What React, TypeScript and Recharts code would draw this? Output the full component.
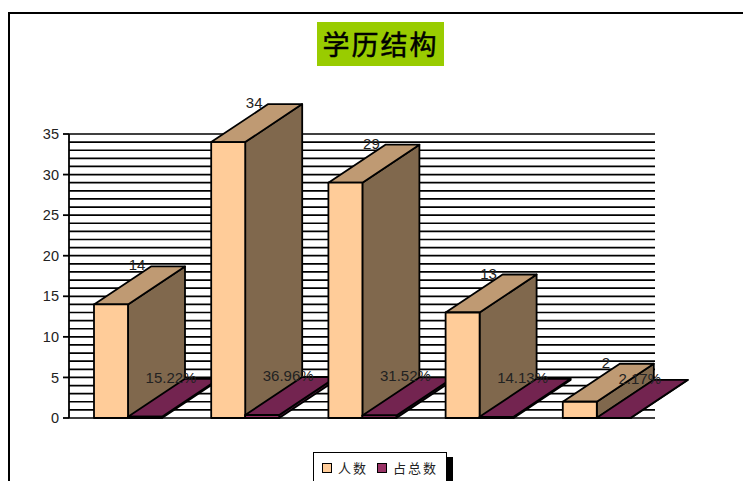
import React from 'react';
import { BarChart, Bar, XAxis, YAxis, CartesianGrid, LabelList, Legend } from 'recharts';

const categories = ['A', 'B', 'C', 'D', 'E'];
const headcount = [14, 34, 29, 13, 2];
const shareOfTotal = [0.1522, 0.3696, 0.3152, 0.1413, 0.0217];
const shareLabels = ['15.22%', '36.96%', '31.52%', '14.13%', '2.17%'];
const yTicks = [0, 5, 10, 15, 20, 25, 30, 35];
const gridValues = [
  0, 1, 2, 3, 4, 5, 6, 7, 8, 9, 10, 11, 12, 13, 14, 15, 16, 17,
  18, 19, 20, 21, 22, 23, 24, 25, 26, 27, 28, 29, 30, 31, 32, 33, 34, 35,
];

const data = categories.map((name, i) => ({
  name,
  count: headcount[i],
  share: shareOfTotal[i],
  shareLabel: shareLabels[i],
}));

const DEPTH_X = 57;
const DEPTH_Y = 38;
const LINE = '#000';
const LABEL_FONT = '"Liberation Sans", Arial, sans-serif';

// side and top faces of the count bars
const CountBar = ({ x, y, width, height }: any) => {
  const r = x + width;
  const b = y + height;
  return (
    <g stroke={LINE} strokeWidth={1.8} strokeLinejoin="round">
      <polygon
        points={`${r},${y} ${r + DEPTH_X},${y - DEPTH_Y} ${r + DEPTH_X},${b - DEPTH_Y} ${r},${b}`}
        fill="#80684D"
      />
      <polygon
        points={`${x},${y} ${x + DEPTH_X},${y - DEPTH_Y} ${r + DEPTH_X},${y - DEPTH_Y} ${r},${y}`}
        fill="#BF9A73"
      />
    </g>
  );
};

// drawn category by category, so the next peach front hides the purple of the previous one
const ShareBar = ({ x, y, width, height, payload }: any) => {
  const r = x + width;
  const b = y + height;
  const unit = height / payload.share;
  const frontH = payload.count * unit;
  const frontX = x - width;
  return (
    <g stroke={LINE} strokeWidth={1.8} strokeLinejoin="round">
      <rect x={frontX} y={b - frontH} width={width} height={frontH} fill="#FFCC99" />
      <polygon
        points={`${r},${y} ${r + DEPTH_X},${y - DEPTH_Y} ${r + DEPTH_X},${b - DEPTH_Y} ${r},${b}`}
        fill="#4D1A38"
      />
      <polygon
        points={`${x},${y} ${x + DEPTH_X},${y - DEPTH_Y} ${r + DEPTH_X},${y - DEPTH_Y} ${r},${y}`}
        fill="#732450"
      />
      <rect x={x} y={y} width={width} height={height} fill="#993366" />
    </g>
  );
};

const DepthLabel = ({ x, y, width, value }: any) => (
  <text
    x={x + width / 2 + 26}
    y={y - 34}
    textAnchor="middle"
    fontFamily={LABEL_FONT}
    fontSize={15}
    fill="#222"
  >
    {value}
  </text>
);

const LegendBox = ({ payload }: any) => (
  <div
    style={{
      position: 'relative',
      width: 134,
      height: 40,
      background: '#fff',
      border: '1px solid #000',
      boxSizing: 'border-box',
      boxShadow: '6px 5px 0 #000',
      display: 'flex',
      alignItems: 'flex-start',
      paddingTop: 6,
      paddingLeft: 8,
      fontFamily: '"Noto Sans CJK SC", sans-serif',
      fontSize: 13,
      lineHeight: '17px',
      letterSpacing: 2,
      color: '#222',
      whiteSpace: 'nowrap',
    }}
  >
    {payload.map((item: any) => (
      <span key={item.value} style={{ display: 'flex', flexShrink: 0, alignItems: 'center', marginRight: 9 }}>
        <span
          style={{
            width: 10,
            height: 10,
            flexShrink: 0,
            background: item.color,
            border: '1.5px solid #000',
            boxSizing: 'border-box',
            marginRight: 6,
          }}
        />
        {item.value}
      </span>
    ))}
  </div>
);

export default function App() {
  return (
    <div style={{ position: 'absolute', left: 0, top: 0, width: 743, height: 481, overflow: 'hidden', background: '#fff' }}>
      <div
        style={{
          position: 'absolute',
          left: 8,
          top: 12,
          width: 735,
          height: 480,
          borderTop: '2px solid #000',
          borderLeft: '2px solid #000',
          boxSizing: 'border-box',
        }}
      />
      <div
        style={{
          position: 'absolute',
          left: 317,
          top: 22,
          width: 127,
          height: 44,
          background: '#99CC00',
          color: '#000',
          fontFamily: '"Noto Sans CJK SC", sans-serif',
          fontWeight: 400,
          WebkitTextStroke: '0.5px #000',
          fontSize: 27,
          letterSpacing: 2,
          lineHeight: '44px',
          textAlign: 'center',
          whiteSpace: 'nowrap',
        }}
      >
        学历结构
      </div>
      <div style={{ position: 'absolute', left: 0, top: 0 }}>
        <BarChart
          width={743}
          height={481}
          data={data}
          margin={{ top: 134, right: 88, bottom: 63, left: 0 }}
          barCategoryGap={24.6}
          barGap={0}
          barSize={34}
        >
          <CartesianGrid
            horizontal
            vertical={false}
            horizontalValues={gridValues}
            stroke="#000"
            strokeWidth={1.7}
          />
          <XAxis dataKey="name" hide />
          <YAxis
            width={69}
            domain={[0, 35]}
            ticks={yTicks}
            interval={0}
            tickSize={6}
            tickMargin={4}
            tick={{ fontFamily: LABEL_FONT, fontSize: 14.5, fill: '#222' }}
            axisLine={{ stroke: '#000', strokeWidth: 1.8 }}
            tickLine={{ stroke: '#000', strokeWidth: 1.8 }}
          />
          <Legend
            layout="horizontal"
            verticalAlign="middle"
            align="center"
            content={<LegendBox />}
            wrapperStyle={{ left: 313, top: 452, width: 134, height: 40 }}
          />
          <Bar dataKey="count" name="人数" fill="#FFCC99" shape={<CountBar />} isAnimationActive={false}>
            <LabelList dataKey="count" content={<DepthLabel />} />
          </Bar>
          <Bar dataKey="share" name="占总数" fill="#993366" shape={<ShareBar />} isAnimationActive={false}>
            <LabelList dataKey="shareLabel" content={<DepthLabel />} />
          </Bar>
        </BarChart>
      </div>
    </div>
  );
}
